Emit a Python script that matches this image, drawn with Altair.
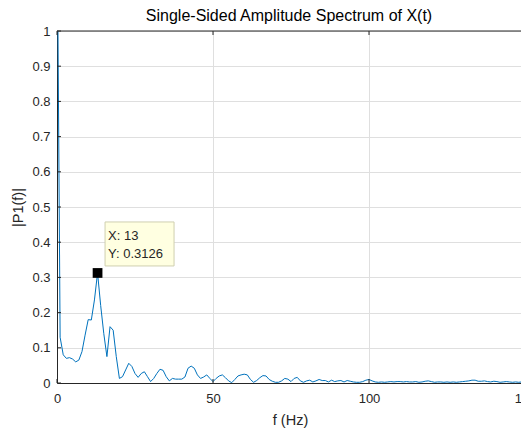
import altair as alt
import pandas as pd

# ---- data ----
freq = list(range(0, 151))
amp = [
    1.4, 0.13, 0.08, 0.07, 0.072, 0.068, 0.06, 0.065, 0.089, 0.136,   # 0-9
    0.18, 0.179, 0.236, 0.3126, 0.22, 0.14, 0.075, 0.16, 0.15, 0.075,  # 10-19
    0.013, 0.018, 0.037, 0.056, 0.047, 0.027, 0.016, 0.027, 0.032, 0.018,  # 20-29
    0.004, 0.013, 0.027, 0.039, 0.036, 0.018, 0.006, 0.013, 0.011, 0.011,  # 30-39
    0.011, 0.017, 0.042, 0.048, 0.042, 0.023, 0.013, 0.017, 0.023, 0.013,  # 40-49
    0.004, 0.013, 0.02, 0.023, 0.015, 0.006, 0.001, 0.01, 0.02, 0.023,     # 50-59
    0.025, 0.023, 0.01, 0.002, 0.007, 0.015, 0.021, 0.02, 0.01, 0.005,     # 60-69
    0.002, 0.002, 0.006, 0.013, 0.011, 0.004, 0.013, 0.016, 0.006, 0.002,  # 70-79
    0.006, 0.008, 0.003, 0.006, 0.01, 0.007, 0.007, 0.003, 0.008, 0.004,   # 80-89
    0.006, 0.007, 0.003, 0.007, 0.005, 0.003, 0.002, 0.002, 0.004, 0.008,  # 90-99
    0.01, 0.006, 0.003, 0.002, 0.003, 0.002, 0.003, 0.004, 0.003, 0.004,   # 100-109
    0.004, 0.003, 0.004, 0.003, 0.003, 0.004, 0.002, 0.003, 0.005, 0.006,  # 110-119
    0.004, 0.002, 0.003, 0.003, 0.002, 0.003, 0.002, 0.003, 0.002, 0.003,  # 120-129
    0.004, 0.005, 0.006, 0.008, 0.008, 0.005, 0.005, 0.006, 0.004, 0.003,  # 130-139
    0.005, 0.004, 0.002, 0.003, 0.004, 0.003, 0.002, 0.003, 0.002, 0.003,  # 140-149
    0.002,                                                                 # 150
]
tip_f = [13]
tip_amp = [0.3126]
tip_x_label = ["X: 13"]
tip_y_label = ["Y: 0.3126"]
x_ticks = [0, 50, 100, 150]
y_ticks = [0, 0.1, 0.2, 0.3, 0.4, 0.5, 0.6, 0.7, 0.8, 0.9, 1]
x_min, x_max = 0, 150
y_min, y_max = 0, 1

title_text = "Single-Sided Amplitude Spectrum of X(t)"
x_title = "f (Hz)"
y_title = "|P1(f)|"

df = pd.DataFrame({"f": freq, "amp": amp})
tip = pd.DataFrame({"f": tip_f, "amp": tip_amp, "lx": tip_x_label, "ly": tip_y_label})
xt = pd.DataFrame({"t": x_ticks})
yt = pd.DataFrame({"t": y_ticks})

FONT = "Liberation Sans"
INK = "#262626"
W, H = 464, 352
XR = 468  # the axis continues slightly beyond the visible window (cropped figure)

xscale = alt.Scale(domain=[x_min, x_max], range=[0, XR], nice=False, zero=False)
yscale = alt.Scale(domain=[y_min, y_max], nice=False, zero=False)

line = alt.Chart(df).mark_line(color="#0072BD", strokeWidth=1, clip=True).encode(
    x=alt.X("f:Q", scale=xscale,
            axis=alt.Axis(values=x_ticks, format="d", title=x_title, labelFlush=False,
                          labelOverlap=False, ticks=False, labelPadding=9, grid=True,
                          titleX=233, titleY=41, titleBaseline="alphabetic",
                          titleAnchor="middle")),
    y=alt.Y("amp:Q", scale=yscale,
            axis=alt.Axis(values=y_ticks, format="~g", title=y_title, ticks=False,
                          labelPadding=7, grid=True, labelOverlap=False,
                          titleX=-35, titleY=H / 2, titleAngle=-90,
                          titleBaseline="alphabetic", titleAlign="center")),
)

# top frame line (box on)
top_line = alt.Chart(tip).mark_rule(color=INK, strokeWidth=1).encode(
    x=alt.XDatum(x_min, axis=None), x2=alt.X2Datum(x_max), y=alt.YDatum(y_max, axis=None)
)

# inward ticks: top and bottom edges
ticks_top = alt.Chart(xt).mark_rule(color=INK, strokeWidth=1, y2Offset=4).encode(
    x=alt.X("t:Q", scale=xscale, axis=None),
    y=alt.YDatum(y_max, axis=None), y2=alt.Y2Datum(y_max)
)
ticks_bottom = alt.Chart(xt).mark_rule(color=INK, strokeWidth=1, y2Offset=-4).encode(
    x=alt.X("t:Q", scale=xscale, axis=None),
    y=alt.YDatum(y_min, axis=None), y2=alt.Y2Datum(y_min)
)
# inward ticks: left edge
ticks_left = alt.Chart(yt).mark_rule(color=INK, strokeWidth=1, x2Offset=4).encode(
    y=alt.Y("t:Q", scale=yscale, axis=None),
    x=alt.XDatum(x_min, axis=None), x2=alt.X2Datum(x_min)
)

XN = alt.X("f:Q", scale=xscale, axis=None)
YN = alt.Y("amp:Q", scale=yscale, axis=None)

box = alt.Chart(tip).mark_rect(
    fill="#ffffe1", stroke="#cfcfb0", strokeWidth=1,
    xOffset=7.5, x2Offset=76.5, yOffset=-51, y2Offset=-7,
).encode(x=XN, x2="f:Q", y=YN, y2="amp:Q")

marker = alt.Chart(tip).mark_square(size=95, color="black", opacity=1, filled=True).encode(
    x=XN, y=YN
)

txt_x = alt.Chart(tip).mark_text(
    align="left", baseline="alphabetic", dx=10.5, dy=-33, fontSize=13, font=FONT, color=INK
).encode(x=XN, y=YN, text="lx:N")

txt_y = alt.Chart(tip).mark_text(
    align="left", baseline="alphabetic", dx=10.5, dy=-14.5, fontSize=13, font=FONT, color=INK
).encode(x=XN, y=YN, text="ly:N")

chart = (
    alt.layer(line, top_line, ticks_top, ticks_bottom, ticks_left, box, marker, txt_x, txt_y)
    .resolve_axis(x="independent", y="independent")
    .properties(
        width=W, height=H,
        title=alt.TitleParams(title_text, font=FONT, fontSize=16, fontWeight="normal",
                              color="#000000", anchor="middle", offset=1),
        autosize=alt.AutoSizeParams(type="none"),
        padding={"left": 57, "top": 31, "right": 0, "bottom": 45},
        background="white",
    )
    .configure_view(strokeWidth=0)
    .configure_axis(
        labelFont=FONT, titleFont=FONT, labelFontSize=13, titleFontSize=14.5,
        titleFontWeight="normal", labelColor=INK, titleColor=INK,
        domainColor=INK, domainWidth=1, tickColor=INK, tickWidth=1,
        gridColor="#dfdfdf", gridWidth=1,
    )
)

chart.save("out.html", embed_options={"renderer": "svg", "actions": False})
